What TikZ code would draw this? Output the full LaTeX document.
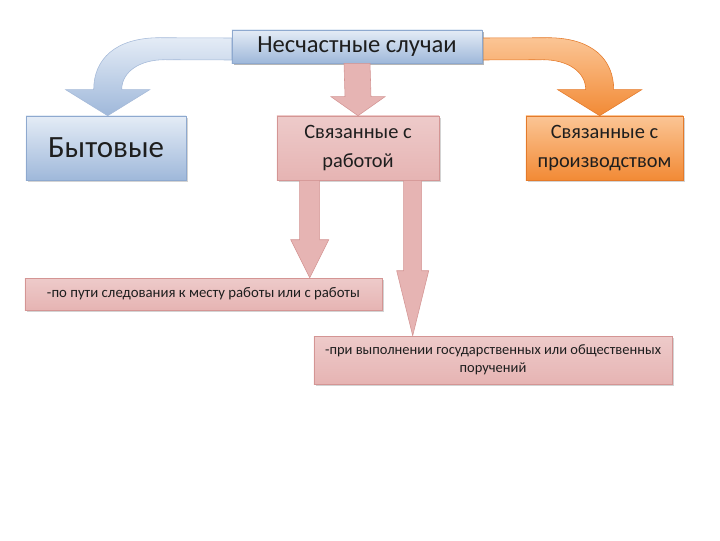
\documentclass[tikz,border=0pt]{standalone}
\usepackage{fontspec}
\setmainfont{Carlito}
\usetikzlibrary{positioning,calc,shadows}
\definecolor{blueL}{HTML}{E4ECF6}\definecolor{blueD}{HTML}{9FB8DA}\definecolor{blueE}{HTML}{8EA9CF}
\definecolor{pinkL}{HTML}{FBF0F0}\definecolor{pinkD}{HTML}{E6B4B3}\definecolor{pinkE}{HTML}{D49594}
\definecolor{oraL}{HTML}{FBC595}\definecolor{oraD}{HTML}{F28A35}\definecolor{oraE}{HTML}{E47A2A}
\definecolor{txt}{HTML}{1E1E1E}
\newcommand{\blockarrow}[6]{\path[#1]($(#2)+(-#4,0)$)--($(#3)+(-#4,-#6)$)--($(#3)+(-#5,-#6)$)--(#3)
 --($(#3)+(#5,-#6)$)--($(#3)+(#4,-#6)$)--($(#2)+(#4,0)$)--cycle;}

\begin{document}
\begin{tikzpicture}[x=0.025cm,y=-0.025cm,
box/.style={draw,line width=.4pt,text=txt,align=center,inner sep=2pt,drop shadow={opacity=.35,shadow xshift=1.2pt,shadow yshift=-1.2pt}},
bluebox/.style={box,draw=blueE,top color=blueL,bottom color=blueD},
pinkbox/.style={box,draw=pinkE,top color=pinkD!70!white,middle color=pinkL,bottom color=pinkD},
orabox/.style={box,draw=oraE,top color=oraL,bottom color=oraD},
pinkarr/.style={draw=pinkE,line width=.4pt,left color=pinkD,middle color=pinkL,right color=pinkD},
bluearr/.style={draw=blueE!80,line width=.4pt,top color=blueL,bottom color=blueD},
oraarr/.style={draw=oraE,line width=.4pt,top color=oraL,bottom color=oraD}]
\useasboundingbox (0,0) rectangle (720,540);
\node[bluebox,minimum width=6.25cm,minimum height=.825cm,font=\fontsize{17.5}{20}\selectfont](nes) at (357,46.5){Несчастные случаи};
\node[bluebox,minimum width=4cm,minimum height=1.6cm,font=\fontsize{22}{26}\selectfont](byt) at (106,148){Бытовые};
\node[pinkbox,minimum width=4.05cm,minimum height=1.6cm,font=\fontsize{14.5}{21}\selectfont](rab) at (358,148){Связанные с\\работой};
\node[orabox,minimum width=3.925cm,minimum height=1.6cm,font=\fontsize{14.5}{21}\selectfont](proizv) at (604.5,148){Связанные с\\производством};
\node[pinkbox,minimum width=8.925cm,minimum height=.8cm,font=\fontsize{10.5}{12}\selectfont](put) at (203.5,294){-по пути следования к месту работы или с работы};
\node[pinkbox,minimum width=8.95cm,minimum height=1.2cm,font=\fontsize{10.3}{12.5}\selectfont](por) at (493,360){-при выполнении государственных или общественных\\поручений};
\coordinate (bt) at ($(byt.north west)+(82,0)$);\coordinate (ot) at ($(proizv.north west)+(74,0)$);
\coordinate (a1) at ($(rab.south west)+(33,0)$);\coordinate (a2) at ($(rab.south west)+(136,0)$);
% curved arrows to the side boxes
\path[bluearr]($(nes.west)+(0,-8.5)$)--($(bt)+(52,-78)$)..controls($(bt)+(7,-78)$)and($(bt)+(-14,-56)$)..($(bt)+(-14,-26)$)
 --($(bt)+(-42,-26)$)--(bt)--($(bt)+(42,-26)$)--($(bt)+(14,-26)$)..controls($(bt)+(14,-44)$)and($(bt)+(32,-56)$)..($(bt)+(57,-56)$)
 --($(nes.west)+(0,13.5)$)--cycle;
\path[oraarr]($(nes.east)+(0,-8.5)$)--($(ot)+(-52,-78)$)..controls($(ot)+(-7,-78)$)and($(ot)+(14,-56)$)..($(ot)+(14,-26)$)
 --($(ot)+(42,-26)$)--(ot)--($(ot)+(-42,-26)$)--($(ot)+(-14,-26)$)..controls($(ot)+(-14,-44)$)and($(ot)+(-32,-56)$)..($(ot)+(-57,-56)$)
 --($(nes.east)+(0,13.5)$)--cycle;
\node[bluebox,minimum width=6.25cm,minimum height=.825cm,font=\fontsize{17.5}{20}\selectfont] at (nes){Несчастные случаи};
% straight arrows
\blockarrow{pinkarr}{nes.south}{rab.north}{13}{27}{19}
\blockarrow{pinkarr}{a1}{a1|-put.north}{10}{19}{38}
\blockarrow{pinkarr}{a2}{a2|-por.north}{9}{16}{65}
\end{tikzpicture}
\end{document}
